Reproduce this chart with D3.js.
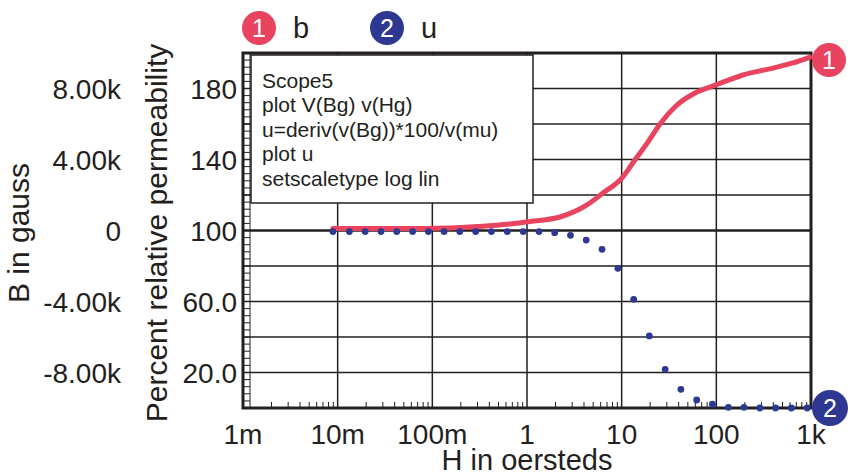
<!DOCTYPE html>
<html>
<head>
<meta charset="utf-8">
<script src="https://cdn.jsdelivr.net/npm/d3@7"></script>
<style>
  body { margin: 0; background: #fff; }
  svg text { font-family: "Liberation Sans", Arial, sans-serif; fill: #231f20; }
</style>
</head>
<body>
<div id="chart"></div>
<script>
// trace 1: b (B in gauss) vs H
const bH = [0.0089, 0.0455, 0.154, 0.318, 0.66, 1.08, 2.23, 4.3, 6.35, 10.1, 13.8, 19.0, 25.4, 38.4, 59.5, 99, 191, 396, 645, 975];
const bGauss = [110, 110, 140, 230, 370, 510, 760, 1440, 2110, 2960, 3970, 4990, 6000, 7070, 7750, 8200, 8760, 9150, 9440, 9770];

// trace 2: u (percent relative permeability) vs H
const uH = [0.0089, 0.0133, 0.0195, 0.0287, 0.0421, 0.0619, 0.0909, 0.133, 0.195, 0.287, 0.421, 0.619, 0.912, 1.34, 1.96, 2.88, 4.22, 6.2, 9.12, 13.4, 19.6, 28.8, 42.2, 62, 91, 134, 196, 288, 422, 620, 912];
const uPct = [99.4, 99.4, 99.4, 99.4, 99.4, 99.4, 99.4, 99.4, 99.4, 99.4, 99.4, 99.4, 99.4, 99.4, 98.8, 97.3, 94.6, 89.4, 78.7, 61.2, 40.6, 21.8, 10.5, 4.5, 2.1, 0.4, 0.4, 0, 0, 0, 0];

// axes
const xTicks = [0.001, 0.01, 0.1, 1, 10, 100, 1000];
const xTickLabels = ["1m", "10m", "100m", "1", "10", "100", "1k"];
const pctTicks = [20, 60, 100, 140, 180];
const pctTickLabels = ["20.0", "60.0", "100", "140", "180"];
const bTicks = [-8000, -4000, 0, 4000, 8000];
const bTickLabels = ["-8.00k", "-4.00k", "0", "4.00k", "8.00k"];

const scriptLines = ["Scope5", "plot V(Bg) v(Hg)", "u=deriv(v(Bg))*100/v(mu)", "plot u", "setscaletype log lin"];

const width = 854, height = 476;
const plot = { left: 243, right: 811, top: 53, bottom: 408 };
const red = "#e8435f", blue = "#2e3892", ink = "#231f20";

const svg = d3.select("#chart").append("svg")
    .attr("width", width)
    .attr("height", height);

const x = d3.scaleLog().domain([0.001, 1000]).range([plot.left, plot.right]);
const yPct = d3.scaleLinear().domain([0, 200]).range([plot.bottom, plot.top]);
const yB = d3.scaleLinear().domain([-10000, 10000]).range([plot.bottom, plot.top]);

// grid
const grid = svg.append("g");
grid.selectAll(".hgrid")
    .data(d3.range(20, 200, 20))
    .enter().append("line")
    .attr("x1", plot.left).attr("x2", plot.right)
    .attr("y1", d => yPct(d)).attr("y2", d => yPct(d))
    .attr("stroke", ink)
    .attr("stroke-width", d => d === 100 ? 2.5 : 1.6);

grid.selectAll(".vgrid")
    .data(xTicks.slice(1, -1))
    .enter().append("line")
    .attr("x1", d => x(d)).attr("x2", d => x(d))
    .attr("y1", plot.top).attr("y2", plot.bottom)
    .attr("stroke", ink)
    .attr("stroke-width", 1.5);

// minor ticks on the bottom
const minor = x.ticks().filter(d => Math.abs(Math.log10(d) - Math.round(Math.log10(d))) > 1e-6);
grid.selectAll(".xminor")
    .data(minor)
    .enter().append("line")
    .attr("x1", d => x(d)).attr("x2", d => x(d))
    .attr("y1", plot.bottom).attr("y2", plot.bottom - 6)
    .attr("stroke", ink)
    .attr("stroke-width", 1);

// ladder of minor ticks on the left
grid.selectAll(".yminor")
    .data(d3.range(4, 200, 4))
    .enter().append("line")
    .attr("x1", plot.left).attr("x2", plot.left + 7)
    .attr("y1", d => yPct(d)).attr("y2", d => yPct(d))
    .attr("stroke", ink)
    .attr("stroke-width", 1);
grid.append("line")
    .attr("x1", plot.left + 7).attr("x2", plot.left + 7)
    .attr("y1", plot.top).attr("y2", plot.bottom)
    .attr("stroke", ink)
    .attr("stroke-width", 1);

// frame
svg.append("rect")
    .attr("x", plot.left).attr("y", plot.top)
    .attr("width", plot.right - plot.left)
    .attr("height", plot.bottom - plot.top)
    .attr("fill", "none")
    .attr("stroke", ink)
    .attr("stroke-width", 3);

// script box
svg.append("rect")
    .attr("x", 251).attr("y", 55)
    .attr("width", 282).attr("height", 148)
    .attr("fill", "#fff")
    .attr("stroke", ink)
    .attr("stroke-width", 1.5);
svg.selectAll(".script")
    .data(scriptLines)
    .enter().append("text")
    .attr("x", 262)
    .attr("y", (d, i) => 87.5 + i * 24.5)
    .style("font-size", "21px")
    .text(d => d);

// traces
const line = d3.line()
    .x((d, i) => x(bH[i]))
    .y(d => yB(d))
    .curve(d3.curveMonotoneX);
svg.append("path")
    .attr("d", line(bGauss))
    .attr("fill", "none")
    .attr("stroke", red)
    .attr("stroke-width", 5)
    .attr("stroke-linecap", "round");

svg.selectAll(".dot")
    .data(uPct)
    .enter().append("circle")
    .attr("cx", (d, i) => x(uH[i]))
    .attr("cy", d => yPct(d))
    .attr("r", 3.4)
    .attr("fill", blue);

// tick labels
svg.selectAll(".xlabel")
    .data(xTicks)
    .enter().append("text")
    .attr("x", d => x(d))
    .attr("y", 444)
    .attr("text-anchor", "middle")
    .style("font-size", "28px")
    .text((d, i) => xTickLabels[i]);

svg.selectAll(".pctlabel")
    .data(pctTicks)
    .enter().append("text")
    .attr("x", 237)
    .attr("y", d => yPct(d) + 10)
    .attr("text-anchor", "end")
    .style("font-size", "28px")
    .text((d, i) => pctTickLabels[i]);

svg.selectAll(".blabel")
    .data(bTicks)
    .enter().append("text")
    .attr("x", 121)
    .attr("y", d => yB(d) + 10)
    .attr("text-anchor", "end")
    .style("font-size", "28px")
    .text((d, i) => bTickLabels[i]);

// axis titles
svg.append("text")
    .attr("transform", "translate(29,233) rotate(-90)")
    .attr("text-anchor", "middle")
    .style("font-size", "30px")
    .text("B in gauss");
svg.append("text")
    .attr("transform", "translate(167,233) rotate(-90)")
    .attr("text-anchor", "middle")
    .style("font-size", "30px")
    .text("Percent relative permeability");
svg.append("text")
    .attr("x", 527).attr("y", 470)
    .attr("text-anchor", "middle")
    .style("font-size", "29px")
    .text("H in oersteds");

// numbered badges
function badge(cx, cy, r, color, label) {
    svg.append("circle").attr("cx", cx).attr("cy", cy).attr("r", r).attr("fill", color);
    svg.append("text")
        .attr("x", cx).attr("y", cy + 9)
        .attr("text-anchor", "middle")
        .style("font-size", "25px")
        .style("fill", "#fff")
        .text(label);
}
badge(259, 28, 17, red, "1");
badge(387, 28, 17, blue, "2");
badge(829, 60, 17, red, "1");
badge(830, 408, 18, blue, "2");

svg.append("text").attr("x", 293).attr("y", 38).style("font-size", "29px").text("b");
svg.append("text").attr("x", 421).attr("y", 38).style("font-size", "29px").text("u");
</script>
</body>
</html>
